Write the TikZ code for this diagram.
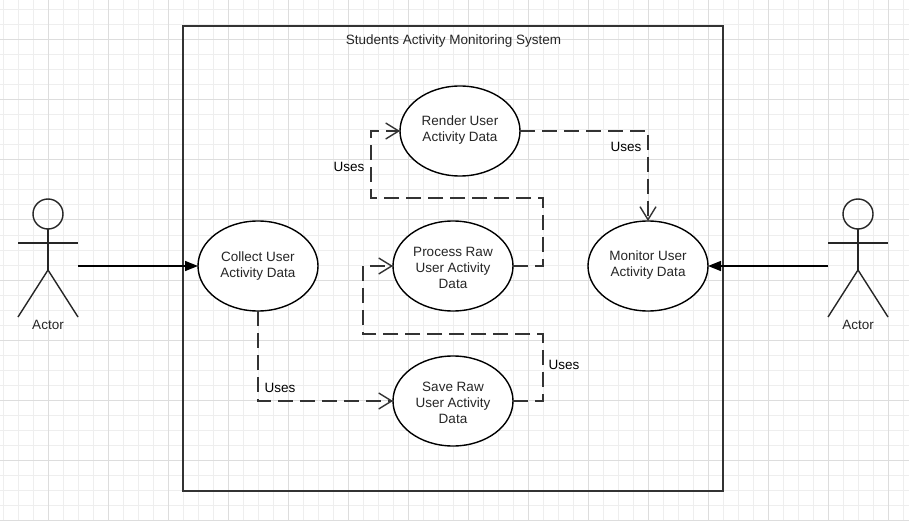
\documentclass[tikz,border=0pt]{standalone}
\usepackage{fontspec}
\setmainfont{Liberation Sans}
\usetikzlibrary{arrows.meta,shapes.geometric}
\definecolor{ink}{HTML}{333333}
\definecolor{minorgrid}{HTML}{EEEEEE}
\definecolor{majorgrid}{HTML}{DDDDDD}
\newcommand{\liftup}[2][-3.4pt]{\raisebox{#1}[0pt][0pt]{\begin{tabular}{@{}c@{}}#2\end{tabular}}}
\tikzset{
  usecase/.style={draw=black,fill=white,ellipse,line width=1.4pt,minimum width=120pt,minimum height=90pt,inner sep=0pt,outer sep=0pt,align=center,font=\fontsize{13.5}{16}\selectfont,text=black!85},
  uses/.style={draw=ink,line width=1.7pt,dash pattern=on 15pt off 7pt,-{Straight Barb[length=13pt,width=16pt,line width=1.4pt,sep=0pt]}},
  assoc/.style={draw=black,line width=1.5pt,-{Triangle[length=13pt,width=10pt]}},
  limb/.style={draw=black!85,line width=1.4pt},
  lbl/.style={font=\fontsize{13.5}{16}\selectfont,text=black,inner sep=0pt},
  small/.style={font=\fontsize{13.5}{16}\selectfont,text=black!85,inner sep=0pt}
}
\begin{document}
\begin{tikzpicture}[x=1pt,y=-1pt]
\useasboundingbox (0,0) rectangle (909,521);
\fill[white] (0,0) rectangle (909,521);
\foreach \x in {3,18,...,903} \draw[minorgrid,line width=1pt] (\x,0) -- (\x,521);
\foreach \y in {10,25,...,520} \draw[minorgrid,line width=1pt] (0,\y) -- (909,\y);
\foreach \x in {48,108,...,888} \draw[majorgrid,line width=1pt] (\x,0) -- (\x,521);
\foreach \y in {40,100,...,520} \draw[majorgrid,line width=1pt] (0,\y) -- (909,\y);

% system boundary
\node[draw=ink,line width=1.8pt,minimum width=540pt,minimum height=465pt,inner sep=0pt,outer sep=0pt] (sys) at (453,258.5) {};
\node[small] (title) at (453.5,41.5) {Students Activity Monitoring System};

% use cases
\node[usecase] (collect) at (258,266) {\liftup{Collect User\\Activity Data}};
\node[usecase] (render) at (460,131) {\liftup[-3.4pt]{Render User\\Activity Data}};
\node[usecase] (process) at (453,266) {\liftup[-6.4pt]{Process Raw\\User Activity\\Data}};
\node[usecase] (monitor) at (648,266) {\liftup[-2.4pt]{Monitor User\\Activity Data}};
\node[usecase] (save) at (453,401) {\liftup[-6.4pt]{Save Raw\\User Activity\\Data}};

% actors
\foreach \n/\cx in {left/48,right/858}{
  \node[circle,draw=black!85,line width=1.4pt,fill=none,minimum size=30pt,inner sep=0pt,outer sep=0pt] (head\n) at (\cx,214) {};
  \coordinate (neck\n) at (\cx,229);
  \coordinate (hip\n) at (\cx,270);
  \coordinate (armL\n) at (\cx-30,243);
  \coordinate (armR\n) at (\cx+30,243);
  \coordinate (footL\n) at (\cx-30,317);
  \coordinate (footR\n) at (\cx+30,317);
  \draw[limb,line width=1.7pt] (head\n.south) -- (hip\n);
  \draw[limb] (armL\n) -- (armR\n);
  \draw[limb] (footL\n) -- (hip\n) -- (footR\n);
  \node[small] (actor\n) at (\cx,324.5) {Actor};
}
\coordinate (handleft) at (78,266);
\coordinate (handright) at (828,266);

% associations
\draw[assoc] (handleft) -- (collect.west);
\draw[assoc] (handright) -- (monitor.east);

% uses connectors
\coordinate (a1) at (543,334);
\coordinate (a2) at (363,334);
\coordinate (b1) at (543,198);
\coordinate (b2) at (371,198);
\draw[uses] (collect.south) |- (save.west);
\draw[uses] (save.east) -| (a1) -- (a2) |- (process.west);
\draw[uses] (process.east) -| (b1) -- (b2) |- (render.west);
\draw[uses] (render.east) -| (monitor.north);

\node[lbl] (u1) at (280,388) {Uses};
\node[lbl] (u2) at (564,365) {Uses};
\node[lbl] (u3) at (349,167) {Uses};
\node[lbl] (u4) at (626,146.5) {Uses};
\end{tikzpicture}
\end{document}
